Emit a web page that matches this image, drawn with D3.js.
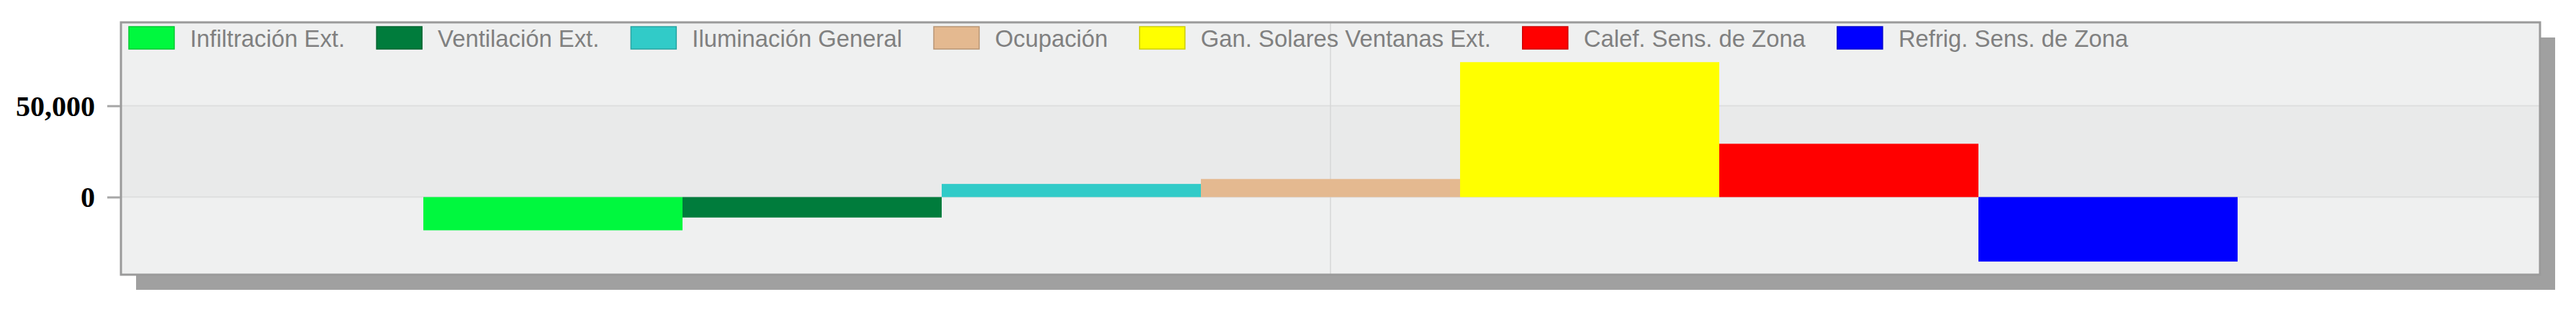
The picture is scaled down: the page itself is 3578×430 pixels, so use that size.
<!DOCTYPE html>
<html>
<head>
<meta charset="utf-8">
<script src="https://cdn.jsdelivr.net/npm/d3@7"></script>
<style>
  html, body { margin: 0; padding: 0; background: #ffffff; }
  svg { display: block; }
</style>
</head>
<body>
<svg id="chart" width="3578" height="430"></svg>
<script>
// ---- data ----
const categories = [""];
const seriesNames = [
  "Infiltración Ext.",
  "Ventilación Ext.",
  "Iluminación General",
  "Ocupación",
  "Gan. Solares Ventanas Ext.",
  "Calef. Sens. de Zona",
  "Refrig. Sens. de Zona"
];
const seriesValues = [-18200, -11200, 7200, 9900, 73900, 29200, -35300];
const seriesColors = ["#00f83e", "#007c3c", "#31cbc8", "#e4b990", "#ffff00", "#ff0000", "#0000ff"];
const tickValues = [0, 50000];
const yDomain = [-42500, 95700];

// ---- layout ----
const W = 3578, H = 430;
const plot = { left: 168, right: 3528, top: 31, bottom: 381 };
const svg = d3.select("#chart");

const x0 = d3.scaleBand().domain(categories)
  .range([plot.left, plot.right]).paddingOuter(0.16667).paddingInner(0);
const x1 = d3.scaleBand().domain(seriesNames).range([0, x0.bandwidth()]);
const y = d3.scaleLinear().domain(yDomain).range([plot.bottom, plot.top]);

// shadow
svg.append("rect")
  .attr("x", plot.left + 21).attr("y", plot.top + 21)
  .attr("width", plot.right - plot.left).attr("height", plot.bottom - plot.top)
  .attr("fill", "#a0a0a0");

// plot background
svg.append("rect")
  .attr("x", plot.left).attr("y", plot.top)
  .attr("width", plot.right - plot.left).attr("height", plot.bottom - plot.top)
  .attr("fill", "#eff0f0");

// alternating band between ticks
svg.append("rect")
  .attr("x", plot.left).attr("y", y(tickValues[1]))
  .attr("width", plot.right - plot.left).attr("height", y(tickValues[0]) - y(tickValues[1]))
  .attr("fill", "#e9eaea");

// horizontal grid lines
svg.append("g").selectAll("line").data(tickValues).join("line")
  .attr("x1", plot.left).attr("x2", plot.right)
  .attr("y1", d => y(d)).attr("y2", d => y(d))
  .attr("stroke", "#dedfdf").attr("stroke-width", 2);

// vertical category line
svg.append("g").selectAll("line").data(categories).join("line")
  .attr("x1", d => x0(d) + x0.bandwidth() / 2).attr("x2", d => x0(d) + x0.bandwidth() / 2)
  .attr("y1", plot.top).attr("y2", plot.bottom)
  .attr("stroke", "#d6d7d7").attr("stroke-width", 1.5);

// bars
const g = svg.append("g");
categories.forEach(cat => {
  g.append("g").attr("transform", `translate(${x0(cat)},0)`)
    .selectAll("rect").data(seriesNames.map((n, i) => ({ n, v: seriesValues[i], c: seriesColors[i] })))
    .join("rect")
    .attr("x", d => x1(d.n))
    .attr("width", x1.bandwidth())
    .attr("y", d => y(Math.max(0, d.v)))
    .attr("height", d => Math.abs(y(d.v) - y(0)))
    .attr("fill", d => d.c);
});

// frame
svg.append("rect")
  .attr("x", plot.left).attr("y", plot.top)
  .attr("width", plot.right - plot.left).attr("height", plot.bottom - plot.top)
  .attr("fill", "none").attr("stroke", "#9a9a9a").attr("stroke-width", 3);

// y axis
const axis = d3.axisLeft(y).tickValues(tickValues).tickFormat(d3.format(",")).tickSize(18).tickPadding(17);
const ax = svg.append("g").attr("transform", `translate(${plot.left - 1},0)`).call(axis);
ax.select(".domain").remove();
ax.selectAll(".tick line").attr("stroke", "#a8a8a8").attr("stroke-width", 3);
ax.selectAll(".tick text")
  .attr("fill", "#000")
  .attr("font-family", "'Liberation Serif', 'Times New Roman', serif")
  .attr("font-weight", "bold")
  .attr("font-size", 40)
  .attr("dy", "0.34em");

// legend
const legend = svg.append("g");
let lx = 179;
seriesNames.forEach((n, i) => {
  const it = legend.append("g");
  it.append("rect")
    .attr("x", lx).attr("y", 37).attr("width", 63).attr("height", 31)
    .attr("fill", seriesColors[i])
    .attr("stroke", d3.color(seriesColors[i]).darker(0.6)).attr("stroke-width", 1.5);
  const t = it.append("text")
    .attr("x", lx + 85).attr("y", 65)
    .attr("font-family", "'Liberation Sans', Arial, sans-serif")
    .attr("font-size", 32.8)
    .attr("fill", "#808080")
    .text(n);
  lx += 85 + t.node().getComputedTextLength() + 44;
});
</script>
</body>
</html>
